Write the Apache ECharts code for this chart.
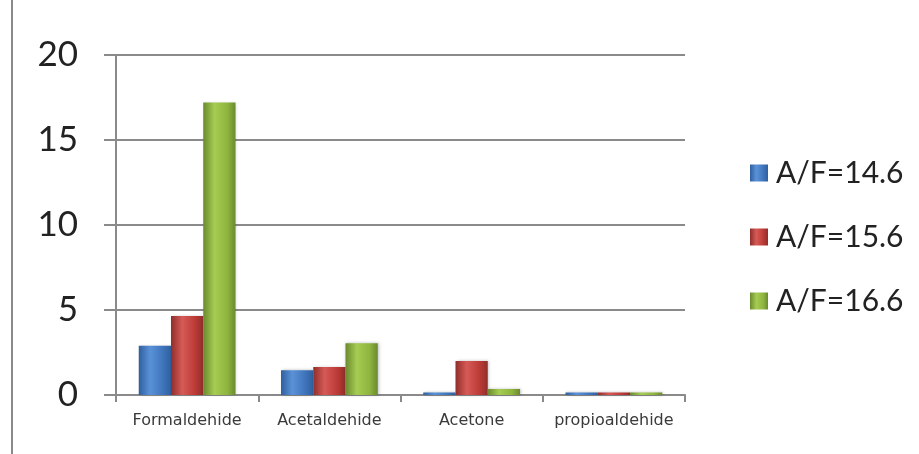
<!DOCTYPE html>
<html>
<head>
<meta charset="utf-8">
<script src="https://cdn.jsdelivr.net/npm/echarts@6/dist/echarts.min.js"></script>
<style>
  html, body { margin: 0; padding: 0; background: #fff; }
  #main { width: 919px; height: 454px; }
</style>
</head>
<body>
<div id="main"></div>
<script>
// ---- data
var categories = ["Formaldehide", "Acetaldehide", "Acetone", "propioaldehide"];
var seriesNames = ["A/F=14.6", "A/F=15.6", "A/F=16.6"];
var af146 = [2.9, 1.45, 0.15, 0.15];
var af156 = [4.65, 1.65, 2.0, 0.15];
var af166 = [17.2, 3.05, 0.35, 0.15];
var yTicks = [0, 5, 10, 15, 20];

function grad(dark, mid, light) {
    return new echarts.graphic.LinearGradient(0, 0, 1, 0, [
        { offset: 0, color: dark },
        { offset: 0.35, color: light },
        { offset: 0.75, color: mid },
        { offset: 1, color: dark }
    ]);
}
var colors = [
    grad("#2f5f9e", "#3f74bb", "#5a92d8"),
    grad("#8f2e2b", "#bb3a36", "#d65a56"),
    grad("#6a8a2e", "#8fb43f", "#a6cc52")
];
var values = [af146, af156, af166];

var myChart = echarts.init(document.getElementById("main"));
var option = {
    backgroundColor: "#fff",
    animation: false,
    color: ["#3f74bb", "#bb3a36", "#8fb43f"],
    graphic: [{
        type: "line",
        shape: { x1: 12, y1: 0, x2: 12, y2: 454 },
        style: { stroke: "#8a8a8a", lineWidth: 2 }
    }],
    grid: { left: 116, right: 234, top: 55, bottom: 59 },
    legend: {
        orient: "vertical",
        left: 745,
        top: 153,
        itemWidth: 18,
        itemHeight: 17,
        itemGap: 34,
        icon: "rect",
        textStyle: { fontFamily: "Lato", fontSize: 30, color: "#222", lineHeight: 30, padding: [0, 0, 0, 3] },
        data: seriesNames
    },
    xAxis: {
        type: "category",
        data: categories,
        axisLine: { lineStyle: { color: "#8a8a8a", width: 2 } },
        axisTick: { show: true, length: 7, lineStyle: { color: "#8a8a8a", width: 2 } },
        axisLabel: { interval: 0, fontFamily: "DejaVu Sans", fontSize: 16, color: "#3a3a3a", margin: 18 }
    },
    yAxis: {
        type: "value",
        min: yTicks[0],
        max: yTicks[yTicks.length - 1],
        interval: 5,
        axisLine: { show: true, lineStyle: { color: "#8a8a8a", width: 2 } },
        axisTick: { show: true, length: 12, lineStyle: { color: "#8a8a8a", width: 2 } },
        axisLabel: { fontFamily: "Lato", fontSize: 35, color: "#222", margin: 38 },
        splitLine: { lineStyle: { color: "#8a8a8a", width: 2 } }
    },
    series: seriesNames.map(function (name, i) {
        return {
            name: name,
            type: "bar",
            data: values[i],
            barGap: "0%",
            barCategoryGap: "32%",
            itemStyle: {
                color: colors[i],
                shadowColor: "rgba(0,0,0,0.25)",
                shadowBlur: 3,
                shadowOffsetX: 1
            }
        };
    })
};
myChart.setOption(option);
</script>
</body>
</html>
